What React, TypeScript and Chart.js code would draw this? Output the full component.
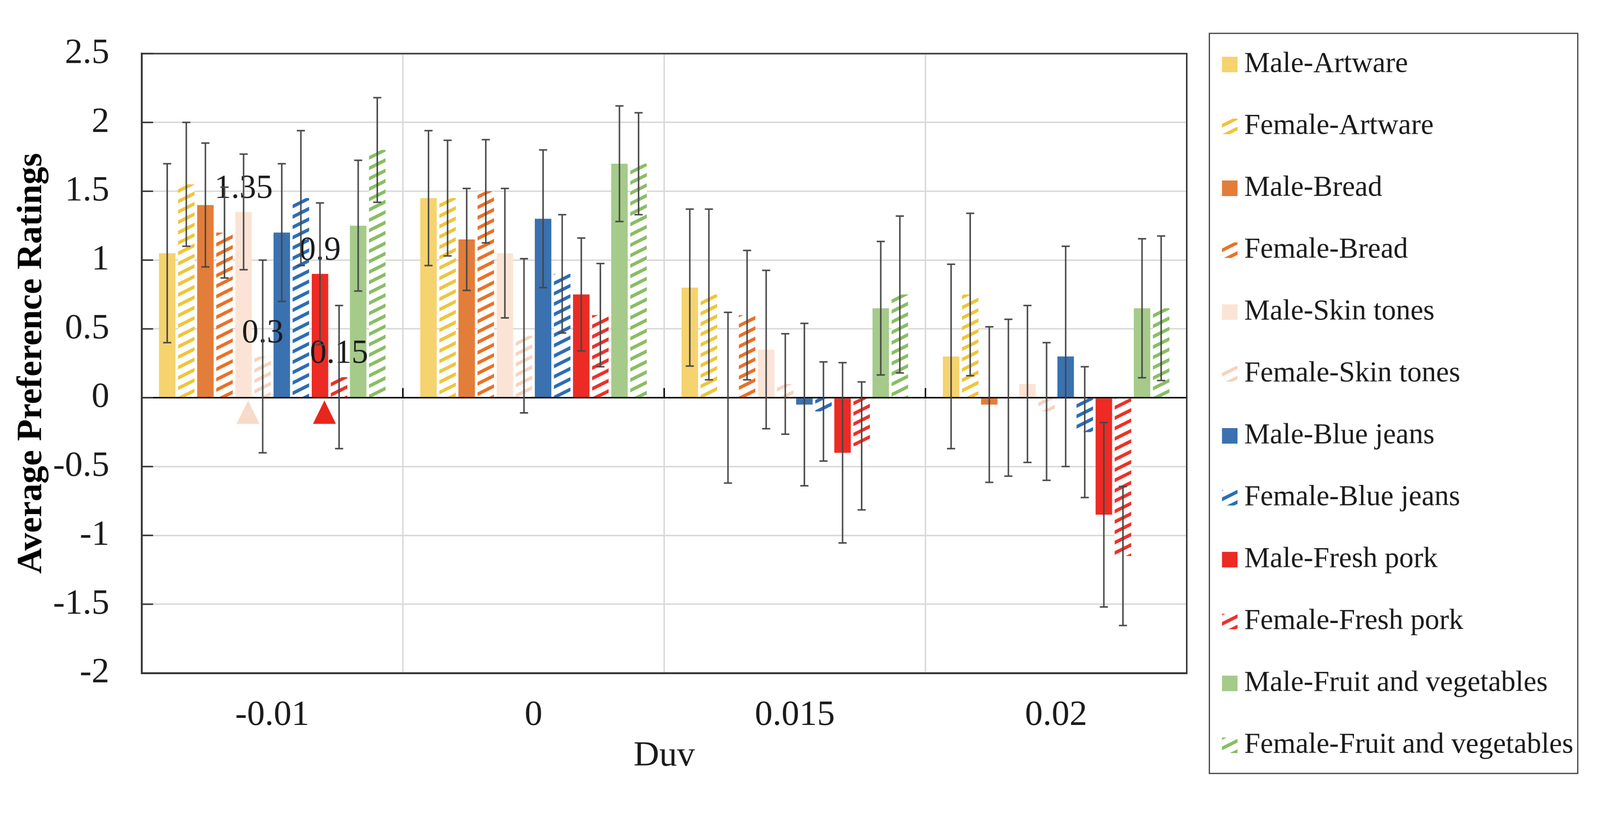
import React, { useEffect, useRef } from 'react';
import { Chart, registerables } from 'chart.js';

Chart.register(...registerables);

// ---------------- data ----------------
const categories = ['-0.01', '0', '0.015', '0.02'];

const seriesNames = [
  'Male-Artware',
  'Female-Artware',
  'Male-Bread',
  'Female-Bread',
  'Male-Skin tones',
  'Female-Skin tones',
  'Male-Blue jeans',
  'Female-Blue jeans',
  'Male-Fresh pork',
  'Female-Fresh pork',
  'Male-Fruit and vegetables',
  'Female-Fruit and vegetables',
];

const maleArtware = [1.05, 1.45, 0.8, 0.3];
const femaleArtware = [1.55, 1.45, 0.75, 0.75];
const maleBread = [1.4, 1.15, 0, -0.05];
const femaleBread = [1.2, 1.5, 0.6, 0];
const maleSkin = [1.35, 1.05, 0.35, 0.1];
const femaleSkin = [0.3, 0.45, 0.1, -0.1];
const maleBlue = [1.2, 1.3, -0.05, 0.3];
const femaleBlue = [1.45, 0.9, -0.1, -0.25];
const malePork = [0.9, 0.75, -0.4, -0.85];
const femalePork = [0.15, 0.6, -0.35, -1.15];
const maleFruit = [1.25, 1.7, 0.65, 0.65];
const femaleFruit = [1.8, 1.7, 0.75, 0.65];

const errMaleArtware = [0.65, 0.49, 0.57, 0.67];
const errFemaleArtware = [0.45, 0.42, 0.62, 0.59];
const errMaleBread = [0.45, 0.37, 0.62, 0.565];
const errFemaleBread = [0.33, 0.375, 0.47, 0.57];
const errMaleSkin = [0.42, 0.47, 0.575, 0.57];
const errFemaleSkin = [0.7, 0.56, 0.365, 0.5];
const errMaleBlue = [0.5, 0.5, 0.59, 0.8];
const errFemaleBlue = [0.49, 0.43, 0.36, 0.475];
const errMalePork = [0.515, 0.41, 0.655, 0.67];
const errFemalePork = [0.52, 0.375, 0.465, 0.505];
const errMaleFruit = [0.475, 0.42, 0.485, 0.505];
const errFemaleFruit = [0.38, 0.37, 0.57, 0.525];

const seriesValues = [
  maleArtware, femaleArtware, maleBread, femaleBread, maleSkin, femaleSkin,
  maleBlue, femaleBlue, malePork, femalePork, maleFruit, femaleFruit,
];
const seriesErrors = [
  errMaleArtware, errFemaleArtware, errMaleBread, errFemaleBread, errMaleSkin, errFemaleSkin,
  errMaleBlue, errFemaleBlue, errMalePork, errFemalePork, errMaleFruit, errFemaleFruit,
];

// value labels and triangle markers shown in the first Duv group
const labeledCategory = '-0.01';
const labeledSeries = ['Male-Skin tones', 'Female-Skin tones', 'Male-Fresh pork', 'Female-Fresh pork'];
const markerSeries = ['Male-Skin tones', 'Male-Fresh pork'];
const markerTop = -0.02;
const markerBottom = -0.19;

const yTicks = [-2, -1.5, -1, -0.5, 0, 0.5, 1, 1.5, 2, 2.5];

// ---------------- styles ----------------
const W0 = 4317;
const H0 = 2107;
const FONT = '"Liberation Serif", "Times New Roman", serif';
const seriesColors = [
  '#F5D36E', '#F0C43A',
  '#E37D3A', '#EA7028',
  '#FBE4D6', '#F5D3BF',
  '#3A71B0', '#2B6CB6',
  '#EC2B24', '#EF2F27',
  '#A5CA8A', '#88BD64',
];
const hatched = [false, true, false, true, false, true, false, true, false, true, false, true];
const markerColors = ['#F8DACA', '#E8261C'];

function makeHatch(color: string): any {
  const W = 56;
  const H = 28;
  const c = document.createElement('canvas');
  c.width = W;
  c.height = H;
  const g = c.getContext('2d');
  if (!g) return color;
  g.fillStyle = '#ffffff';
  g.fillRect(0, 0, W, H);
  g.strokeStyle = color;
  g.lineWidth = 9;
  for (const n of [-1, 0, 1]) {
    g.beginPath();
    g.moveTo(-8, H + (8 * H) / W + n * H);
    g.lineTo(W + 8, n * H - (8 * H) / W);
    g.stroke();
  }
  return g.createPattern(c, 'repeat') || color;
}

const LEG = {
  left: 3263,
  top: 90,
  right: 4257,
  bottom: 2087,
  firstRow: 174,
  step: 167,
  swatchX: 3297,
  swatch: 42,
  textX: 3357,
};

const overlayPlugin = {
  id: 'overlay',
  afterDatasetsDraw(chart: any) {
    const { ctx, chartArea: a, scales } = chart;
    const xs = scales.x;
    const ys = scales.y;
    ctx.save();

    // axis line at zero
    const y0 = ys.getPixelForValue(0);
    ctx.strokeStyle = '#000000';
    ctx.lineWidth = 3.5;
    ctx.beginPath();
    ctx.moveTo(a.left, y0);
    ctx.lineTo(a.right, y0);
    ctx.stroke();

    // tick marks on the zero axis at category boundaries
    const n = categories.length;
    const bounds: number[] = [a.left];
    for (let i = 0; i < n - 1; i++) {
      bounds.push((xs.getPixelForTick(i) + xs.getPixelForTick(i + 1)) / 2);
    }
    bounds.push(a.right);
    ctx.lineWidth = 4;
    bounds.forEach((bx) => {
      ctx.beginPath();
      ctx.moveTo(bx, y0);
      ctx.lineTo(bx, y0 - 26);
      ctx.stroke();
    });

    // inner ticks on the value axis
    ctx.strokeStyle = '#333333';
    ctx.lineWidth = 4;
    yTicks.forEach((t) => {
      const py = ys.getPixelForValue(t);
      ctx.beginPath();
      ctx.moveTo(a.left, py);
      ctx.lineTo(a.left + 31, py);
      ctx.stroke();
    });

    const ci = categories.indexOf(labeledCategory);

    // triangle markers
    markerSeries.forEach((name, k) => {
      const di = seriesNames.indexOf(name);
      const el = chart.getDatasetMeta(di).data[ci];
      if (!el) return;
      const cx = el.x + 12;
      const yt = ys.getPixelForValue(markerTop);
      const yb = ys.getPixelForValue(markerBottom);
      ctx.fillStyle = markerColors[k];
      ctx.beginPath();
      ctx.moveTo(cx, yt);
      ctx.lineTo(cx + 31, yb);
      ctx.lineTo(cx - 31, yb);
      ctx.closePath();
      ctx.fill();
    });

    // value labels
    ctx.font = `90px ${FONT}`;
    ctx.fillStyle = '#1a1a1a';
    ctx.textAlign = 'center';
    ctx.textBaseline = 'alphabetic';
    chart.data.datasets.forEach((ds: any, di: number) => {
      if (!labeledSeries.includes(ds.label)) return;
      const el = chart.getDatasetMeta(di).data[ci];
      if (!el) return;
      ctx.fillText(String(ds.data[ci]), el.x, el.y - 38);
    });

    // error bars
    ctx.strokeStyle = '#474747';
    ctx.lineWidth = 4;
    chart.data.datasets.forEach((ds: any, di: number) => {
      const meta = chart.getDatasetMeta(di);
      meta.data.forEach((el: any, j: number) => {
        const v = ds.data[j];
        const e = seriesErrors[di][j];
        const yt = ys.getPixelForValue(v + e);
        const yb = ys.getPixelForValue(v - e);
        ctx.beginPath();
        ctx.moveTo(el.x, yt);
        ctx.lineTo(el.x, yb);
        ctx.moveTo(el.x - 11, yt);
        ctx.lineTo(el.x + 11, yt);
        ctx.moveTo(el.x - 11, yb);
        ctx.lineTo(el.x + 11, yb);
        ctx.stroke();
      });
    });

    ctx.restore();
  },
  afterDraw(chart: any) {
    const { ctx, chartArea: a } = chart;
    ctx.save();
    // plot border
    ctx.strokeStyle = '#333333';
    ctx.lineWidth = 4;
    ctx.strokeRect(a.left, a.top, a.right - a.left, a.bottom - a.top);

    // legend
    ctx.lineWidth = 3;
    ctx.strokeStyle = '#333333';
    ctx.strokeRect(LEG.left, LEG.top, LEG.right - LEG.left, LEG.bottom - LEG.top);
    ctx.font = `78px ${FONT}`;
    ctx.textAlign = 'left';
    ctx.textBaseline = 'middle';
    chart.data.datasets.forEach((ds: any, i: number) => {
      const cy = LEG.firstRow + i * LEG.step;
      ctx.fillStyle = ds.backgroundColor;
      ctx.fillRect(LEG.swatchX, cy - LEG.swatch / 2, LEG.swatch, LEG.swatch);
      ctx.fillStyle = '#1a1a1a';
      ctx.fillText(ds.label, LEG.textX, cy);
    });
    ctx.restore();
  },
};

export default function App() {
  const ref = useRef<HTMLCanvasElement>(null);

  const vw = typeof window !== 'undefined' ? window.innerWidth : W0;
  const vh = typeof window !== 'undefined' ? window.innerHeight : H0;
  const s = Math.min(vw / W0, vh / H0) || 1;

  useEffect(() => {
    const canvas = ref.current;
    if (!canvas) return;

    const datasets = seriesNames.map((name, i) => ({
      label: name,
      data: seriesValues[i],
      backgroundColor: hatched[i] ? makeHatch(seriesColors[i]) : seriesColors[i],
      borderWidth: 0,
    }));

    const chart = new Chart(canvas, {
      type: 'bar',
      data: { labels: categories, datasets },
      options: {
        animation: false,
        responsive: false,
        devicePixelRatio: 1,
        layout: { padding: { left: 0, top: 142, right: 1115, bottom: 0 } },
        datasets: {
          bar: { categoryPercentage: 0.877, barPercentage: 0.864 },
        },
        plugins: {
          legend: { display: false },
          tooltip: { enabled: false },
        },
        scales: {
          x: {
            type: 'category',
            offset: true,
            grid: { offset: true, color: '#d9d9d9', lineWidth: 4, drawTicks: false },
            border: { display: true, color: '#333333', width: 5 },
            ticks: {
              font: { family: FONT, size: 96 },
              color: '#1a1a1a',
              padding: 57,
              maxRotation: 0,
              autoSkip: false,
            },
            title: {
              display: true,
              text: 'Duv',
              font: { family: FONT, size: 96 },
              color: '#1a1a1a',
              padding: { top: 0, bottom: 9 },
            },
            afterFit: (sc: any) => {
              sc.height = 291;
            },
          },
          y: {
            min: -2,
            max: 2.5,
            ticks: {
              stepSize: 0.5,
              font: { family: FONT, size: 96 },
              color: '#1a1a1a',
              padding: 87,
              callback: (v: any) => String(v),
            },
            grid: {
              color: (c: any) => (c.tick && c.tick.value === 0 ? '#000000' : '#d9d9d9'),
              lineWidth: 4,
              drawTicks: false,
            },
            border: { display: true, color: '#333333', width: 5 },
            title: {
              display: true,
              text: 'Average Preference Ratings',
              font: { family: FONT, size: 96, weight: 'bold' },
              color: '#000000',
              padding: { top: 29, bottom: 0 },
            },
            afterFit: (sc: any) => {
              sc.width = 382;
            },
          },
        },
      } as any,
      plugins: [overlayPlugin],
    });

    return () => chart.destroy();
  }, []);

  return (
    <div
      style={{
        position: 'fixed',
        left: 0,
        top: 0,
        width: '100vw',
        height: '100vh',
        background: '#ffffff',
        overflow: 'hidden',
      }}
    >
      <div
        style={{
          width: W0,
          height: H0,
          transform: `scale(${s})`,
          transformOrigin: '0 0',
        }}
      >
        <canvas ref={ref} width={W0} height={H0} style={{ display: 'block', width: W0, height: H0 }} />
      </div>
    </div>
  );
}
